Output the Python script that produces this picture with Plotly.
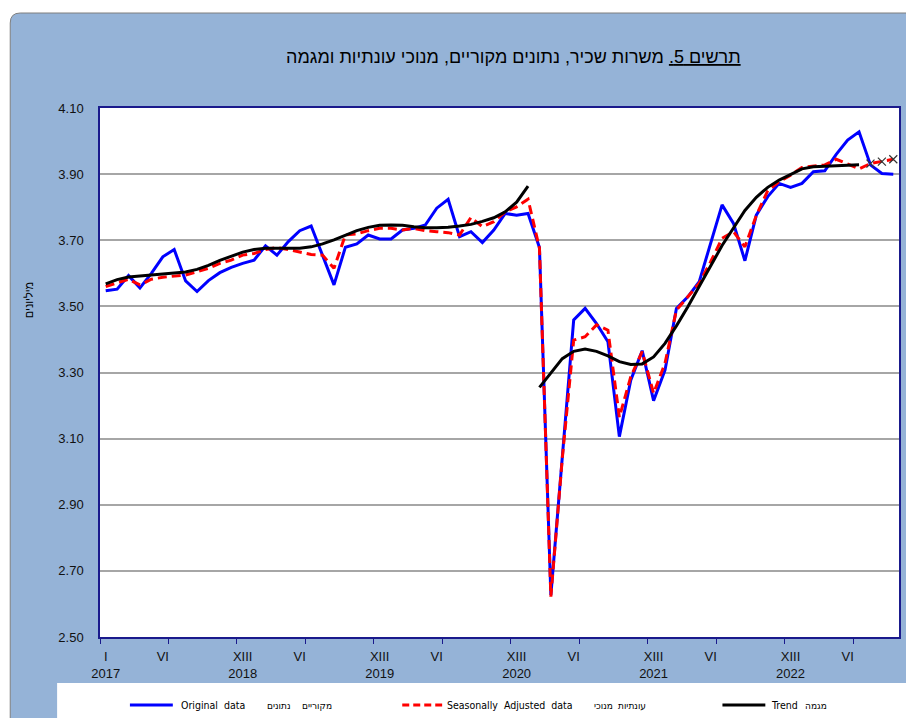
import plotly.graph_objects as go

# ---------------- data (monthly, Jan 2017 - Oct 2022), millions ----------------
original = [3.547, 3.552, 3.593, 3.556, 3.600, 3.650, 3.672, 3.577, 3.545, 3.578,
            3.602, 3.618, 3.630, 3.640, 3.683, 3.655, 3.696, 3.729, 3.743, 3.652,
            3.565, 3.679, 3.689, 3.716, 3.704, 3.704, 3.731, 3.736, 3.746, 3.797,
            3.824, 3.711, 3.726, 3.693, 3.731, 3.781, 3.776, 3.781, 3.678, 2.627,
            3.030, 3.459, 3.494, 3.448, 3.393, 3.106, 3.277, 3.366, 3.215, 3.307,
            3.494, 3.529, 3.575, 3.691, 3.807, 3.751, 3.638, 3.776, 3.832, 3.872,
            3.860, 3.872, 3.907, 3.910, 3.960, 4.003, 4.028, 3.928, 3.902, 3.900]

seasonally_adjusted = [3.560, 3.572, 3.582, 3.565, 3.582, 3.588, 3.592, 3.595, 3.605, 3.615,
                       3.630, 3.640, 3.655, 3.660, 3.672, 3.678, 3.672, 3.665, 3.657, 3.655,
                       3.615, 3.716, 3.719, 3.729, 3.736, 3.736, 3.731, 3.736, 3.729, 3.726,
                       3.723, 3.716, 3.769, 3.741, 3.756, 3.786, 3.801, 3.824, 3.676, 2.622,
                       3.040, 3.398, 3.408, 3.444, 3.428, 3.165, 3.287, 3.363, 3.237, 3.328,
                       3.489, 3.529, 3.570, 3.635, 3.706, 3.726, 3.680, 3.775, 3.850, 3.877,
                       3.897, 3.920, 3.925, 3.928, 3.945, 3.930, 3.916, 3.932, 3.938, 3.945]

# trend, first segment: Jan 2017 - Feb 2020
trend_part1 = [3.568, 3.581, 3.589, 3.592, 3.595, 3.597, 3.600, 3.604, 3.612, 3.624,
               3.639, 3.652, 3.664, 3.672, 3.676, 3.676, 3.676, 3.676, 3.680, 3.689,
               3.701, 3.716, 3.729, 3.739, 3.745, 3.746, 3.745, 3.741, 3.738, 3.738,
               3.739, 3.743, 3.748, 3.757, 3.768, 3.786, 3.815, 3.864]
# trend, second segment: Mar 2020 - Jul 2022
trend_part2 = [3.255, 3.300, 3.342, 3.364, 3.371, 3.364, 3.350, 3.333, 3.324, 3.326,
               3.347, 3.388, 3.441, 3.499, 3.560, 3.622, 3.684, 3.737, 3.790, 3.830,
               3.860, 3.882, 3.900, 3.916, 3.922, 3.924, 3.925, 3.926, 3.928]

tick_positions = [0, 5, 12, 17, 24, 29, 36, 41, 48, 53, 60, 65]
tick_labels = ["I<br>2017", "VI", "XIII<br>2018", "VI", "XIII<br>2019", "VI",
               "XIII<br>2020", "VI", "XIII<br>2021", "VI", "XIII<br>2022", "VI"]
y_ticks = [2.50, 2.70, 2.90, 3.10, 3.30, 3.50, 3.70, 3.90, 4.10]

title_text = "תרשים 5."
title_rest = "משרות שכיר, נתונים מקוריים, מנוכי עונתיות ומגמה"
y_title = "מיליונים"
# legend: English label, then the Hebrew words as they appear left-to-right
legend_entries = [("Original  data", ["נתונים", "מקוריים"]),
                  ("Seasonally  Adjusted  data", ["מנוכי", "עונתיות"]),
                  ("Trend", ["מגמה"])]

# ---------------- figure geometry (pixels) ----------------
FW, FH = 906, 718
L, R, T, B = 100, 901, 108, 637
W, H = R - L, B - T


def xp(px):
    return (px - L) / W


def yp(py):
    return (B - py) / H


months = list(range(len(original)))
n1 = len(trend_part1)
x_trend1 = months[:n1]
x_trend2 = months[n1:n1 + len(trend_part2)]

BLUE_BG = "#95B3D7"
NAVY = "#1A1A8C"
FONT = "Liberation Sans, Arial, DejaVu Sans"
NARROW = "Liberation Sans Narrow, Arial Narrow, DejaVu Sans Condensed, Liberation Sans"

fig = go.Figure()
fig.add_trace(go.Scatter(x=months, y=original, mode="lines",
                         line=dict(color="#0000FF", width=3), name="Original data"))
fig.add_trace(go.Scatter(x=months, y=seasonally_adjusted, mode="lines",
                         line=dict(color="#FF0000", width=3, dash="9px,5px"),
                         name="Seasonally Adjusted data"))
fig.add_trace(go.Scatter(x=x_trend1, y=trend_part1, mode="lines",
                         line=dict(color="#000000", width=3), name="Trend"))
fig.add_trace(go.Scatter(x=x_trend2, y=trend_part2, mode="lines",
                         line=dict(color="#000000", width=3), name="Trend"))
fig.add_trace(go.Scatter(x=months[-3:], y=seasonally_adjusted[-3:], mode="markers",
                         marker=dict(symbol="x-thin", size=8, color="#333333",
                                     line=dict(color="#333333", width=1.2)),
                         name="preliminary"))

shapes = []
# blue chart-area background with rounded top-left corner
r = 10
x10, xr = xp(10), xp(FW + 10)
shapes.append(dict(
    type="path", xref="paper", yref="paper", layer="below",
    path=(f"M {x10},{yp(FH + 10)} L {x10},{yp(13 + r)} "
          f"Q {x10},{yp(13)} {xp(10 + r)},{yp(13)} "
          f"L {xr},{yp(13)} L {xr},{yp(FH + 10)} Z"),
    fillcolor=BLUE_BG, line=dict(color="#7F7F7F", width=1)))
# white plot area
shapes.append(dict(type="rect", xref="paper", yref="paper", layer="below",
                   x0=0, x1=1, y0=0, y1=1, fillcolor="white", line=dict(width=0)))
# white legend box
shapes.append(dict(type="rect", xref="paper", yref="paper", layer="below",
                   x0=xp(57), x1=xp(FW + 10), y0=yp(FH + 10), y1=yp(683),
                   fillcolor="white", line=dict(width=0)))

# legend samples
ly = yp(705)
samples = [((130, 173), dict(color="#0000FF", width=3)),
           ((403, 443), dict(color="#FF0000", width=3, dash="7px,4px")),
           ((724, 767), dict(color="#000000", width=3))]
for (a, b), ln in samples:
    shapes.append(dict(type="line", xref="paper", yref="paper", x0=xp(a), x1=xp(b),
                       y0=ly, y1=ly, line=ln))

annotations = []
text_pos = [(179, [265, 300]), (446, [593, 617]), (771, [805])]
for (eng, heb_words), (xe, xhs) in zip(legend_entries, text_pos):
    annotations.append(dict(xref="paper", yref="paper", x=xp(xe), y=ly, text=eng,
                            showarrow=False, xanchor="left", yanchor="middle",
                            font=dict(family=NARROW, size=10.5, color="#000")))
    for word, xh in zip(heb_words, xhs):
        annotations.append(dict(xref="paper", yref="paper", x=xp(xh), y=ly, text=word,
                                showarrow=False, xanchor="left", yanchor="middle",
                                font=dict(family=NARROW, size=10, color="#000")))

# title (right-to-left embedding so the Hebrew sentence reads correctly)
annotations.append(dict(xref="paper", yref="paper", x=xp(515), y=yp(57),
                        text="<u>\u202B" + title_text + "</u> " + title_rest + "\u202C",
                        showarrow=False, xanchor="center", yanchor="middle",
                        font=dict(family=FONT, size=18, color="#000")))
# y-axis title
annotations.append(dict(xref="paper", yref="paper", x=xp(29), y=yp(300),
                        text=y_title, textangle=-90, showarrow=False,
                        xanchor="center", yanchor="middle",
                        font=dict(family=FONT, size=11, color="#000")))

fig.update_layout(
    width=FW, height=FH,
    margin=dict(l=L, r=FW - R, t=T, b=FH - B, pad=0),
    paper_bgcolor="white", plot_bgcolor="rgba(0,0,0,0)",
    showlegend=False,
    shapes=shapes, annotations=annotations,
    xaxis=dict(range=[-0.5, len(original) - 0.5], tickmode="array",
               tickvals=tick_positions, ticktext=tick_labels, ticks="",
               showgrid=False, zeroline=False, showline=True, linecolor=NAVY,
               linewidth=1.5, mirror=True, ticklabelstandoff=7,
               tickfont=dict(family=FONT, size=13, color="#111"),
               minor=dict(tickmode="linear", tick0=-0.5, dtick=6, ticks="outside",
                          ticklen=5, tickwidth=1, tickcolor=NAVY, showgrid=False)),
    yaxis=dict(range=[2.5, 4.1], tickmode="array", tickvals=y_ticks,
               ticktext=[f"{v:.2f}" for v in y_ticks], ticks="",
               showgrid=True, gridcolor="#A6A6A6", gridwidth=1.5, zeroline=False,
               showline=True, linecolor=NAVY, linewidth=1.5, mirror=True,
               ticklabelstandoff=12,
               tickfont=dict(family=FONT, size=13, color="#111")),
)

fig.write_html(
    "out.html",
    config={"displayModeBar": False},
    post_script=("document.documentElement.style.overflow='hidden';"
                 "document.body.style.margin='0';"
                 "document.body.style.overflow='hidden';"),
)
